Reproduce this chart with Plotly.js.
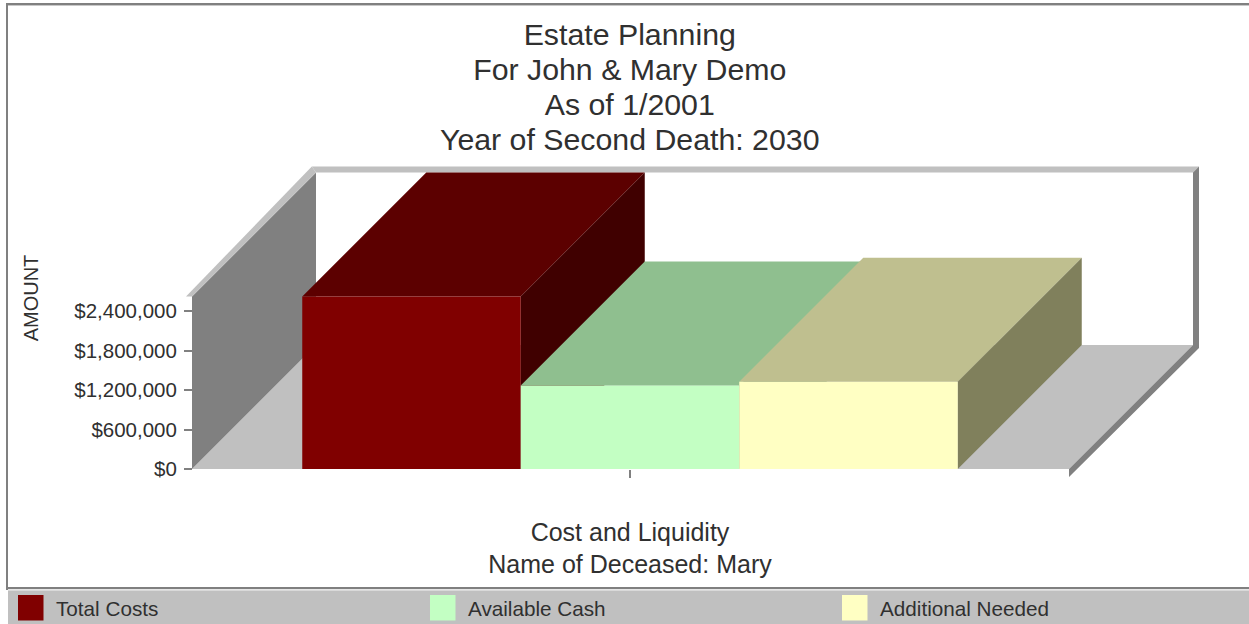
<!DOCTYPE html>
<html>
<head>
<meta charset="utf-8">
<script src="https://cdn.plot.ly/plotly-3.0.1.min.js"></script>
<style>html,body{margin:0;padding:0;background:#fff;overflow:hidden}#chart{width:1249px;height:624px}</style>
</head>
<body>
<div id="chart"></div>
<script>
// ---- data ----
var titleLines = ['Estate Planning', 'For John &amp; Mary Demo', 'As of 1/2001', 'Year of Second Death: 2030'];
var seriesNames = ['Total Costs', 'Available Cash', 'Additional Needed'];
var seriesValues = [2620000, 1270000, 1325000];
var categoryLabel = ['Cost and Liquidity'];
var xTitle = 'Name of Deceased: Mary';
var yTitle = 'AMOUNT';
var yTickVals = [0, 600000, 1200000, 1800000, 2400000];
var yTickText = ['$0', '$600,000', '$1,200,000', '$1,800,000', '$2,400,000'];

// ---- style ----
var frontColors = ['#800000', '#c3ffc3', '#ffffc3'];
var topColors = ['#5c0000', '#8fbf8f', '#bfbf8f'];
var sideColors = ['#400000', '#608060', '#80805c'];
var textColor = '#303030';
var W = 1249, H = 624;
var plotL = 193, plotR = 1067, plotB = 469, plotT = 127;   // front plane
var outL = 180, outR = 1205, outB = 482, outT = 160;       // area that holds the depth faces
var pxX = 1 / (plotR - plotL), pxY = 1e6 / 65.83;
var DX = 124 * pxX, DY = 124 * pxY;      // depth of the pseudo-3D box
var barW = 0.25;                         // bar width on the x axis (bargap .25, 3 bars)
var wallTop = 2620000;
var xRange = [-0.5, 0.5], yRange = [0, (plotB - plotT) * pxY];
var tx = 6 * pxX, ty = 6 * pxY;

function poly(pts, color) {
  return {
    type: 'scatter', mode: 'lines', fill: 'toself', fillcolor: color, xaxis: 'x', yaxis: 'y',
    line: {width: 0, color: color}, hoverinfo: 'skip', showlegend: false,
    x: pts.map(function (p) { return p[0]; }).concat([pts[0][0]]),
    y: pts.map(function (p) { return p[1]; }).concat([pts[0][1]])
  };
}

var traces = [];
var L = xRange[0] - pxX, R = xRange[1] + 2 * pxX;
// floor
traces.push(poly([[L, 0], [R, 0], [R + DX, DY], [L + DX, DY]], '#c0c0c0'));
// left wall
traces.push(poly([[L, 0], [L + DX, DY], [L + DX, wallTop + DY], [L, wallTop]], '#808080'));
// light rim: left diagonal and back top
traces.push(poly([[L, wallTop], [L + DX, wallTop + DY], [L + DX - tx * 0.7, wallTop + DY + ty], [L - tx, wallTop]], '#c0c0c0'));
traces.push(poly([[L + DX, wallTop + DY], [R + DX, wallTop + DY], [R + DX + tx, wallTop + DY + ty], [L + DX - tx * 0.7, wallTop + DY + ty]], '#c0c0c0'));
// dark rim: back right and front floor lip
traces.push(poly([[R + DX, wallTop + DY], [R + DX + tx, wallTop + DY + ty], [R + DX + tx, DY - 3 * pxY], [R, -8 * pxY], [R, 0], [R + DX, DY]], '#808080'));

// depth faces of the bars, left to right
seriesValues.forEach(function (v, i) {
  var a = -1.5 * barW + i * barW, b = a + barW;
  traces.push(poly([[a, v], [b, v], [b + DX, v + DY], [a + DX, v + DY]], topColors[i]));
  traces.push(poly([[b, 0], [b + DX, DY], [b + DX, v + DY], [b, v]], sideColors[i]));
});

// front faces on a second subplot drawn above the depth faces
seriesValues.forEach(function (v, i) {
  traces.push({
    type: 'bar', name: seriesNames[i], x: [0], y: [v], xaxis: 'x2', yaxis: 'y2',
    marker: {color: frontColors[i], line: {width: 0}},
    hovertemplate: seriesNames[i] + ': %{y:$,.0f}<extra></extra>'
  });
});

function fx(p) { return p / W; }
function fy(p) { return (H - p) / H; }
function rect(x0, y0, x1, y1, c) {
  return {type: 'rect', xref: 'paper', yref: 'paper', x0: fx(x0), x1: fx(x1), y0: fy(y1), y1: fy(y0),
    fillcolor: c, line: {width: 0}, layer: 'below'};
}

var shapes = [
  rect(6, 3, 1249, 5, '#808080'),
  rect(6, 5, 1249, 6, '#c8c8c8'),
  rect(6, 3, 8, 590, '#808080'),
  rect(8, 587, 1249, 589, '#808080'),
  rect(8, 589, 1249, 590.5, '#e6e6e6'),
  rect(8, 590.5, 1249, 624, '#c0c0c0')
];
var legendSwatchX = [18, 430, 842];
var annotations = [];
seriesNames.forEach(function (n, i) {
  var s = rect(legendSwatchX[i], 595, legendSwatchX[i] + 25.5, 620.5, frontColors[i]);
  s.layer = 'above';
  shapes.push(s);
  annotations.push({
    xref: 'paper', yref: 'paper', x: fx(legendSwatchX[i] + 36), y: fy(608), xanchor: 'left', yanchor: 'middle',
    text: n, showarrow: false, font: {family: 'Liberation Sans', size: 20.7, color: textColor}
  });
});

var layout = {
  width: W, height: H,
  margin: {l: 0, r: 0, t: 0, b: 0, pad: 0},
  paper_bgcolor: '#fff', plot_bgcolor: 'rgba(0,0,0,0)',
  showlegend: false, hovermode: 'closest',
  barmode: 'group', bargap: 0.25, bargroupgap: 0,
  font: {family: 'Liberation Sans', color: textColor},
  title: {
    text: titleLines.map(function (t) { return '<span style="font-size:30.3px">' + t + '</span>'; }).join('<br>'),
    x: 0.5042, xref: 'paper', xanchor: 'center', y: 1 - 45 / H, yref: 'paper', yanchor: 'top',
    font: {family: 'Liberation Sans', size: 27, color: textColor}
  },
  xaxis: {
    domain: [outL / W, outR / W], visible: false, fixedrange: true, anchor: 'y', type: 'linear',
    range: [xRange[0] - (plotL - outL) * pxX, xRange[1] + (outR - plotR) * pxX]
  },
  yaxis: {
    domain: [(H - outB) / H, (H - outT) / H], visible: false, fixedrange: true, anchor: 'x', type: 'linear',
    range: [-(outB - plotB) * pxY, (plotB - outT) * pxY]
  },
  xaxis2: {
    domain: [plotL / W, plotR / W], anchor: 'y2', range: xRange, type: 'linear', fixedrange: true,
    tickmode: 'array', tickvals: [0], ticktext: categoryLabel,
    ticks: 'outside', ticklen: 8, tickwidth: 1.5, tickcolor: '#808080', ticklabelstandoff: 33,
    tickfont: {family: 'Liberation Sans', size: 25, color: textColor},
    showgrid: false, zeroline: false, showline: false, automargin: false,
    title: {text: xTitle, standoff: 10, font: {family: 'Liberation Sans', size: 25, color: textColor}}
  },
  yaxis2: {
    domain: [(H - plotB) / H, (H - plotT) / H], anchor: 'x2', range: yRange, type: 'linear', fixedrange: true,
    tickmode: 'array', tickvals: yTickVals, ticktext: yTickText,
    ticks: 'outside', ticklen: 8, tickwidth: 1.5, tickcolor: '#808080', ticklabelstandoff: 3,
    tickfont: {family: 'Liberation Sans', size: 20.5, color: textColor},
    showgrid: false, zeroline: false, showline: false, automargin: false,
    title: {text: yTitle, standoff: 30, font: {family: 'Liberation Sans', size: 20, color: textColor}}
  },
  shapes: shapes,
  annotations: annotations
};

Plotly.newPlot('chart', traces, layout, {displayModeBar: false, responsive: false});
</script>
</body>
</html>
